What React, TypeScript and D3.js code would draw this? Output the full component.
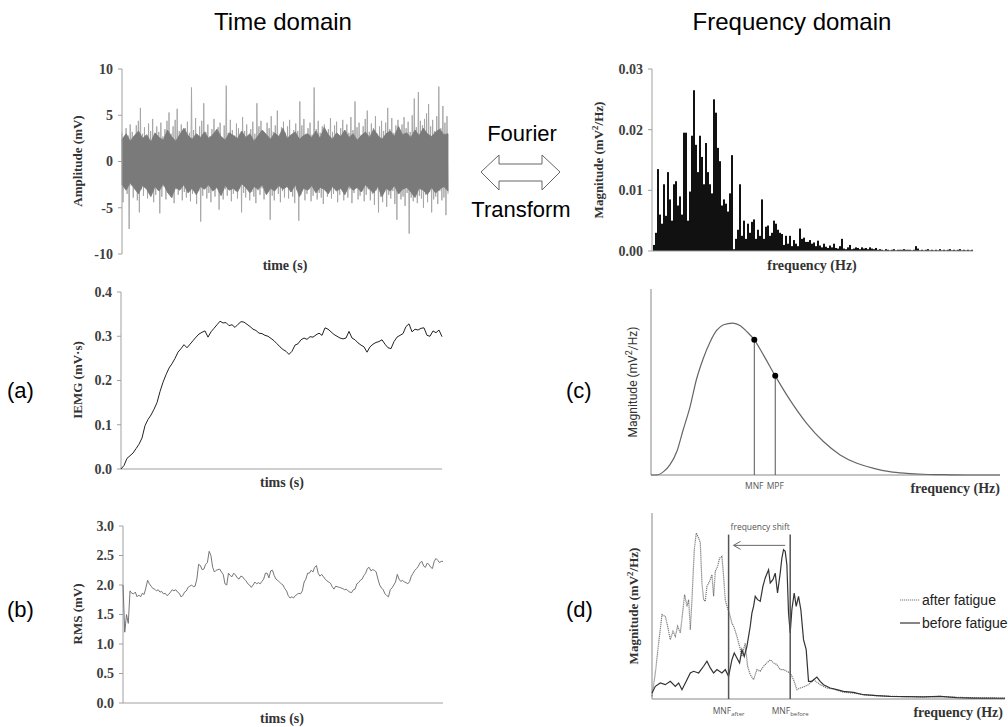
import React from 'react';
import * as d3 from 'd3';

// raw EMG: successive positive / negative excursions (mV)
const emgPeaks = [
  3.1, 2.4, 3.6, 2.8, 4.0, 3.2, 2.6, 3.9, 4.4, 5.8,
  3.0, 3.7, 2.5, 4.1, 3.3, 4.6, 2.9, 3.8, 3.2, 4.2,
  2.7, 3.5, 4.4, 5.3, 3.0, 3.8, 4.5, 5.7, 3.3, 4.0,
  2.8, 3.6, 4.3, 3.1, 8.0, 3.4, 4.7, 2.9, 3.8, 4.4,
  6.3, 3.2, 4.0, 2.7, 3.5, 4.6, 3.0, 3.7, 4.2, 2.6,
  3.9, 8.2, 3.1, 4.5, 3.4, 2.8, 4.1, 3.6, 2.9, 4.8,
  3.3, 4.0, 2.7, 3.5, 4.3, 3.0, 6.3, 3.8, 4.4, 3.1,
  2.9, 4.2, 3.6, 4.9, 3.2, 3.9, 5.5, 2.8, 3.7, 4.3,
  3.1, 3.8, 4.5, 2.7, 3.4, 4.1, 3.3, 6.5, 3.9, 4.6,
  3.0, 3.6, 4.2, 2.9, 8.0, 3.5, 4.4, 3.1, 3.8, 4.0,
  2.8, 3.5, 4.7, 3.2, 3.9, 4.3, 2.7, 3.6, 4.5, 3.3,
  4.0, 3.1, 4.8, 3.4, 6.5, 3.7, 4.2, 2.9, 3.8, 4.6,
  5.5, 3.2, 4.1, 3.6, 4.9, 3.0, 3.8, 4.4, 3.3, 4.2,
  5.8, 3.5, 4.7, 3.1, 3.9, 4.5, 3.4, 4.0, 4.8, 3.6,
  4.3, 3.2, 5.0, 6.8, 3.7, 7.5, 4.4, 3.9, 4.6, 5.2,
  6.2, 3.8, 4.5, 3.3, 4.9, 8.1, 3.6, 6.0, 4.2, 4.9,
];
const emgTroughs = [
  -4.4, -2.8, -3.5, -7.3, -2.6, -3.9, -3.1, -4.2, -5.5, -3.0,
  -3.7, -2.5, -4.0, -3.3, -2.9, -4.4, -3.6, -3.1, -5.6, -3.8,
  -2.7, -4.1, -3.4, -2.9, -3.9, -4.5, -3.0, -3.6, -2.8, -4.2,
  -3.3, -3.9, -2.6, -4.3, -3.5, -3.0, -4.6, -3.2, -6.5, -3.7,
  -2.9, -4.0, -3.4, -4.4, -3.1, -3.8, -2.7, -5.2, -3.6, -4.1,
  -3.0, -3.7, -2.8, -4.3, -3.5, -3.2, -4.0, -2.9, -5.5, -3.4,
  -3.9, -2.7, -4.2, -3.3, -3.8, -4.5, -3.1, -3.6, -2.9, -4.1,
  -3.4, -3.0, -6.3, -3.7, -4.2, -2.8, -3.5, -4.4, -3.2, -3.9,
  -2.7, -4.0, -3.3, -3.8, -4.5, -3.1, -6.4, -3.6, -2.9, -4.2,
  -3.5, -3.0, -4.3, -3.7, -2.8, -4.1, -3.4, -3.9, -4.6, -3.2,
  -3.8, -2.7, -4.0, -3.5, -3.1, -4.4, -3.6, -2.9, -4.2, -3.3,
  -3.9, -3.0, -4.5, -3.4, -2.8, -4.1, -3.7, -3.2, -4.3, -3.6,
  -3.0, -4.2, -3.5, -4.7, -3.1, -5.5, -3.8, -4.4, -3.3, -4.9,
  -3.6, -4.0, -3.2, -4.6, -6.3, -3.5, -4.1, -3.8, -4.8, -3.4,
  -7.8, -3.9, -4.3, -3.1, -4.5, -3.7, -4.0, -5.0, -3.6, -4.4,
  -3.3, -5.5, -4.1, -3.8, -4.6, -3.2, -4.2, -3.9, -5.8, -3.5,
];
// envelope of the dense dark core of the signal (mV)
const coreUpper = [
  2.4, 3.0, 2.2, 2.8, 3.3, 2.5, 2.9, 2.1, 3.1, 2.6,
  2.3, 3.4, 2.7, 2.2, 2.9, 3.6, 2.8, 2.4, 3.0, 2.6,
  3.2, 2.5, 2.9, 3.5, 2.7, 2.3, 3.1, 2.8, 2.5, 3.3,
  2.6, 3.0, 2.2, 2.8, 3.4, 2.9, 2.4, 3.1, 2.7, 3.6,
  2.5, 2.9, 3.2, 2.4, 2.8, 3.0, 2.6, 3.3, 2.5, 3.7,
  2.9, 2.4, 3.1, 2.7, 3.4, 2.6, 3.0, 2.3, 2.8, 3.2,
  2.6, 3.5, 2.8, 2.4, 3.0, 3.3, 2.7, 3.8, 2.9, 3.1,
  2.6, 3.4, 2.8, 3.6, 3.0, 2.7, 3.2, 3.5, 2.9, 3.0,
];
const coreLower = [
  -2.5, -3.1, -2.3, -2.9, -3.5, -2.6, -3.0, -3.8, -2.7, -3.2,
  -2.4, -3.3, -3.9, -2.8, -3.1, -2.5, -3.4, -2.9, -3.6, -2.7,
  -3.0, -2.5, -3.2, -2.8, -3.7, -2.6, -3.1, -2.9, -3.3, -2.4,
  -2.8, -3.4, -2.7, -3.0, -2.5, -3.6, -2.9, -3.2, -2.6, -3.0,
  -2.7, -3.3, -2.5, -3.8, -2.9, -3.1, -2.6, -3.4, -2.8, -3.0,
  -3.5, -2.7, -3.2, -2.9, -3.6, -2.6, -3.1, -2.8, -3.3, -2.5,
  -3.0, -3.4, -2.7, -3.8, -2.9, -3.2, -2.6, -3.5, -3.0, -2.8,
  -3.3, -3.9, -2.9, -3.1, -3.6, -2.8, -3.4, -3.0, -2.7, -3.2,
];

// power spectrum (mV²/Hz), one bar per frequency bin
const spectrum = [
  0.001, 0.003, 0.0135, 0.006, 0.0045, 0.011, 0.0058, 0.013, 0.0085, 0.005,
  0.011, 0.0115, 0.0075, 0.009, 0.006, 0.0195, 0.0195, 0.005, 0.0098, 0.019,
  0.0265, 0.0175, 0.013, 0.019, 0.0155, 0.011, 0.0178, 0.013, 0.011, 0.0095,
  0.025, 0.0228, 0.017, 0.0148, 0.0075, 0.0085, 0.0078, 0.0065, 0.0095, 0.0158,
  0.0003, 0.002, 0.0035, 0.011, 0.0025, 0.005, 0.002, 0.0045, 0.003, 0.0048,
  0.0052, 0.002, 0.0035, 0.0025, 0.0085, 0.002, 0.004, 0.0042, 0.0025, 0.003,
  0.005, 0.0045, 0.0035, 0.003, 0.0028, 0.001, 0.0025, 0.0012, 0.0025, 0.0008,
  0.0018, 0.0012, 0.0008, 0.0037, 0.002, 0.0022, 0.0015, 0.0015, 0.0018, 0.0012,
  0.0014, 0.0008, 0.0017, 0.0009, 0.0006, 0.0012, 0.0007, 0.0005, 0.0009, 0.0006,
  0.0012, 0.0005, 0.0004, 0.0008, 0.002, 0.0004, 0.0003, 0.0006, 0.001, 0.0003,
  0.0004, 0.0006, 0.0005, 0.0003, 0.0006, 0.0004, 0.0005, 0.0003, 0.0006, 0.0004,
  0.0003, 0.0005, 0.0002, 0.0003, 0.0002, 0.0001, 0.0003, 0.0002, 0.0001, 0.0002,
  0.0003, 0.0001, 0.0002, 0.0002, 0.0002, 0.0003, 0.0002, 0.0002, 0.0002, 0.0001,
  0.0002, 0.0008, 0.0004, 0.0001, 0.0002, 0.0001, 0.0002, 0.0003, 0.0001, 0.0002,
  0.0001, 0.0002, 0.0001, 0.0003, 0.0001, 0.0002, 0.0001, 0.0002, 0.0003, 0.0001,
  0.0002, 0.0001, 0.0002, 0.0003, 0.0001, 0.0002, 0.0001, 0.0002, 0.0001, 0.0002,
];

// integrated EMG (mV·s)
const iemg = [
  0.000, 0.008, 0.024, 0.030, 0.036, 0.046, 0.056, 0.070, 0.098, 0.112,
  0.122, 0.135, 0.150, 0.175, 0.196, 0.213, 0.228, 0.238, 0.250, 0.264,
  0.272, 0.281, 0.274, 0.282, 0.290, 0.298, 0.305, 0.309, 0.312, 0.298,
  0.310, 0.318, 0.326, 0.334, 0.330, 0.331, 0.324, 0.326, 0.320, 0.327,
  0.333, 0.332, 0.327, 0.322, 0.316, 0.313, 0.307, 0.306, 0.302, 0.300,
  0.295, 0.290, 0.283, 0.276, 0.270, 0.266, 0.259, 0.266, 0.280, 0.283,
  0.292, 0.296, 0.293, 0.299, 0.298, 0.303, 0.307, 0.302, 0.319, 0.316,
  0.310, 0.304, 0.300, 0.296, 0.294, 0.296, 0.311, 0.296, 0.292, 0.285,
  0.280, 0.276, 0.264, 0.276, 0.282, 0.286, 0.288, 0.292, 0.282, 0.274,
  0.272, 0.288, 0.298, 0.302, 0.306, 0.322, 0.328, 0.310, 0.316, 0.314,
  0.318, 0.319, 0.302, 0.300, 0.312, 0.308, 0.314, 0.299,
];

// RMS (mV)
const rms = [
  2.0, 1.2, 1.5, 1.35, 1.9, 1.86, 1.85, 1.88, 1.8, 1.83,
  1.8, 1.86, 1.84, 1.95, 2.08, 2.02, 1.98, 1.94, 1.93, 1.9,
  1.92, 1.88, 1.89, 1.85, 1.86, 1.82, 1.84, 1.88, 1.92, 1.9,
  1.92, 1.88, 1.86, 1.8, 1.82, 1.88, 1.9, 1.96, 1.98, 2.0,
  1.97, 1.98, 2.1, 2.35, 2.33, 2.26, 2.27, 2.35, 2.38, 2.57,
  2.5, 2.3, 2.22, 2.25, 2.26, 2.27, 2.22, 2.18, 2.02, 2.0,
  2.2, 2.16, 2.14, 2.2, 2.17, 2.12, 2.1, 2.15, 2.14, 2.1,
  2.07, 2.02, 2.0, 1.96, 2.0, 2.05, 2.02, 2.04, 2.02, 2.06,
  2.1, 2.2, 2.2, 2.12, 2.24, 2.25, 2.16, 2.1, 2.08, 2.05,
  2.02, 2.0, 1.94, 1.9, 1.82, 1.78, 1.8, 1.78, 1.82, 1.84,
  1.86, 1.85, 1.9, 2.05, 2.1, 2.2, 2.2, 2.25, 2.22, 2.3,
  2.33, 2.2, 2.15, 2.18, 2.14, 2.1, 2.07, 2.05, 2.03, 1.97,
  1.93, 1.98, 1.97, 1.96, 1.95, 1.94, 1.92, 1.93, 1.9, 1.88,
  1.87, 1.92, 1.93, 2.02, 2.04, 2.08, 2.1, 2.16, 2.2, 2.28,
  2.3, 2.24, 2.26, 2.25, 2.22, 2.1, 2.0, 1.95, 1.92, 1.85,
  1.82, 1.8, 1.92, 1.95, 2.0, 2.05, 2.18, 2.1, 2.06, 2.08,
  2.05, 2.04, 2.02, 2.06, 2.15, 2.2, 2.25, 2.28, 2.32, 2.38,
  2.4, 2.32, 2.3, 2.37, 2.35, 2.3, 2.28, 2.4, 2.45, 2.42,
  2.38, 2.4, 2.4,
];

// (c) schematic power spectral density
const psdFreq = [0, 8, 18, 27, 37, 46, 56, 65, 75, 85, 94, 104, 117, 128, 137, 148, 161, 178, 199, 223, 247, 271, 295, 319, 342, 366, 390, 414, 452, 500];
const psdMag = [0, 0, 0.018, 0.054, 0.126, 0.242, 0.368, 0.512, 0.628, 0.718, 0.777, 0.808, 0.817, 0.803, 0.772, 0.727, 0.646, 0.533, 0.404, 0.278, 0.18, 0.108, 0.063, 0.036, 0.018, 0.009, 0.004, 0.002, 0, 0];
const mnf = 148;
const mpf = 178;

// (d) spectra before / after fatigue
const afterFreq = [0, 5, 10, 15, 20, 23.5, 27.5, 31.5, 35, 38.5, 42.5, 46.5, 49, 52.5, 55, 57.5, 60, 63.5, 66.5, 70, 72.5, 75, 77.5, 80, 82.5, 86.5, 90, 92.5, 95, 98.5, 101.5, 105, 107.5, 110, 112.5, 116, 120, 123.5, 127.5, 131.5, 135, 140, 143.5, 147.5, 152.5, 157.5, 162.5, 167.5, 172.5, 177.5, 182.5, 187.5, 192.5, 197.5, 202.5, 207.5, 212.5, 217.5, 222.5, 227.5, 235, 242.5, 252.5, 262.5, 272.5, 287.5, 302.5, 317.5, 337.5, 357.5, 382.5, 407.5, 432.5, 457.5, 482.5, 530];
const afterMag = [1.4, 14.0, 30.1, 45.3, 44.4, 39.1, 31.9, 36.4, 33.7, 39.1, 35.5, 48.0, 56.1, 49.8, 53.4, 37.3, 53.4, 80.3, 89.2, 86.6, 83.9, 62.4, 53.4, 52.5, 60.6, 63.3, 66.8, 55.2, 68.6, 71.3, 75.8, 76.7, 65.9, 53.4, 49.8, 46.2, 40.9, 38.2, 33.7, 28.3, 22.9, 30.1, 17.6, 13.1, 10.4, 15.8, 14.9, 17.6, 19.4, 21.1, 19.4, 18.5, 15.8, 15.8, 14.9, 14.0, 10.4, 5.0, 5.9, 6.5, 7.7, 10.4, 7.7, 5.9, 5.4, 3.6, 3.2, 2.3, 1.8, 1.4, 1.3, 1.1, 1.4, 0.9, 0.7, 0.5];
const beforeFreq = [0, 5, 12.5, 20, 27.5, 35, 40, 45, 52.5, 57.5, 62.5, 70, 77.5, 82.5, 87.5, 92.5, 97.5, 105, 110, 115, 120, 123.5, 127.5, 131.5, 135, 138.5, 142.5, 145, 147.5, 150, 152.5, 155, 158.5, 162.5, 166.5, 170, 175, 177.5, 181.5, 185, 188.5, 192.5, 195, 197.5, 200, 202.5, 205, 207.5, 210, 213.5, 216.5, 220, 223.5, 227.5, 231.5, 235, 240, 247.5, 252.5, 257.5, 267.5, 277.5, 287.5, 302.5, 317.5, 337.5, 357.5, 382.5, 407.5, 432.5, 457.5, 482.5, 530];
const beforeMag = [3.2, 6.8, 8.6, 7.7, 9.5, 6.8, 8.6, 5.0, 10.4, 14.0, 14.9, 14.0, 17.6, 20.3, 16.7, 14.0, 15.8, 14.0, 15.8, 12.2, 21.1, 24.7, 22.0, 19.4, 26.5, 22.9, 28.3, 33.7, 39.1, 46.2, 49.8, 55.2, 53.4, 52.5, 60.6, 65.1, 69.5, 62.4, 64.2, 67.7, 57.0, 67.7, 75.8, 80.3, 79.4, 72.2, 46.2, 35.5, 48.0, 57.0, 49.8, 55.2, 48.0, 31.9, 26.5, 9.5, 9.5, 11.8, 9.5, 7.7, 5.9, 5.0, 4.1, 3.6, 2.3, 1.8, 1.4, 1.3, 1.1, 1.4, 0.7, 0.5, 0.4];
const mnfAfter = 115;
const mnfBefore = 207.5;
const shiftLevel = 82.6;
const markerTop = 88.4;

const ampTicks = [-10, -5, 0, 5, 10];
const specTicks = [0, 0.01, 0.02, 0.03];
const iemgTicks = [0, 0.1, 0.2, 0.3, 0.4];
const rmsTicks = [0, 0.5, 1, 1.5, 2, 2.5, 3];

const tickFont = { fontFamily: '"Liberation Serif", serif', fontWeight: 700, fontSize: 14, fill: '#404040' };
const titleFont = { fontFamily: '"Liberation Serif", serif', fontWeight: 700, fontSize: 14, fill: '#333' };
const sans = '"Liberation Sans", Arial, sans-serif';
const axisColor = '#a0a0a0';

type Scale = d3.ScaleLinear<number, number>;

function YAxis({ y, x, ticks, fmt }: { y: Scale; x: number; ticks: number[]; fmt: (v: number) => string }) {
  const [b, t] = y.range();
  return (
    <g>
      <line x1={x} x2={x} y1={b} y2={t} stroke={axisColor} />
      {ticks.map((v) => (
        <g key={v}>
          <line x1={x - 4} x2={x} y1={y(v)} y2={y(v)} stroke={axisColor} />
          <text x={x - 9} y={y(v)} dy="0.35em" textAnchor="end" style={tickFont}>{fmt(v)}</text>
        </g>
      ))}
    </g>
  );
}

function YTitle({ x, y, text, style }: { x: number; y: number; text: React.ReactNode; style: any }) {
  return (
    <text transform={`translate(${x},${y}) rotate(-90)`} dy="0.35em" textAnchor="middle" style={style}>{text}</text>
  );
}

const MagLabel = (
  <>
    Magnitude (mV<tspan fontSize="9" dy="-5">2</tspan><tspan dy="5">/Hz)</tspan>
  </>
);

export default function App() {
  // raw EMG
  const emg = emgPeaks.flatMap((p, i) => [p, emgTroughs[i]]);
  const xA = d3.scaleLinear().domain([0, emg.length - 1]).range([122, 448]);
  const yA = d3.scaleLinear().domain([-10, 10]).range([254, 69]);
  const emgPath = d3.line<number>().x((_, i) => xA(i)).y((d) => yA(d))(emg) || '';
  const xCore = d3.scaleLinear().domain([0, coreUpper.length - 1]).range([122, 448]);
  const corePath = d3.area<number>().x((_, i) => xCore(i)).y0((_, i) => yA(coreLower[i])).y1((d) => yA(d))(coreUpper) || '';

  // spectrum
  const xB = d3.scaleBand<number>().domain(d3.range(spectrum.length)).range([653, 973]).padding(0);
  const yB = d3.scaleLinear().domain([0, 0.03]).range([251, 69]);

  // (a) IEMG
  const xC = d3.scaleLinear().domain([0, iemg.length - 1]).range([121, 442]);
  const yC = d3.scaleLinear().domain([0, 0.4]).range([469, 292]);
  const iemgPath = d3.line<number>().x((_, i) => xC(i)).y((d) => yC(d))(iemg) || '';

  // (b) RMS
  const xE = d3.scaleLinear().domain([0, rms.length - 1]).range([123, 443]);
  const yE = d3.scaleLinear().domain([0, 3]).range([703, 526]);
  const rmsPath = d3.line<number>().x((_, i) => xE(i)).y((d) => yE(d))(rms) || '';

  // (c) PSD
  const xD = d3.scaleLinear().domain([0, 500]).range([651, 1000]);
  const yD = d3.scaleLinear().domain([0, 1]).range([475, 289]);
  const psdPath = d3.line<number>().x((_, i) => xD(psdFreq[i])).y((d) => yD(d)).curve(d3.curveMonotoneX)(psdMag) || '';
  const mnfMag = psdMag[psdFreq.indexOf(mnf)];
  const mpfMag = psdMag[psdFreq.indexOf(mpf)];

  // (d) fatigue spectra
  const xF = d3.scaleLinear().domain([0, 530]).range([652, 1005]);
  const yF = d3.scaleLinear().domain([0, 100]).range([699, 513]);
  const afterPath = d3.line<number>().x((_, i) => xF(afterFreq[i])).y((d) => yF(d))(afterMag) || '';
  const beforePath = d3.line<number>().x((_, i) => xF(beforeFreq[i])).y((d) => yF(d))(beforeMag) || '';

  const smallLabel = { fontFamily: '"Open Sans", sans-serif', fontSize: 8.5, fill: '#555' };

  return (
    <svg width={1008} height={727} style={{ position: 'absolute', left: 0, top: 0, background: '#fff' }}>
      {/* headings */}
      <text x={283} y={30} textAnchor="middle" style={{ fontFamily: sans, fontSize: 24, fill: '#000' }}>Time domain</text>
      <text x={792} y={30} textAnchor="middle" style={{ fontFamily: sans, fontSize: 24, fill: '#000' }}>Frequency domain</text>

      {/* Fourier transform arrow */}
      <text x={522} y={141} textAnchor="middle" style={{ fontFamily: sans, fontSize: 22, fill: '#000' }}>Fourier</text>
      <path d="M481,172 L499,155 L499,164 L542,164 L542,155 L560,172 L542,190 L542,181 L499,181 L499,190 Z" fill="#fff" stroke="#666" strokeWidth={1} />
      <text x={521} y={217} textAnchor="middle" style={{ fontFamily: sans, fontSize: 22, fill: '#000' }}>Transform</text>

      {/* panel letters */}
      <text x={7} y={398} style={{ fontFamily: sans, fontSize: 22 }}>(a)</text>
      <text x={7} y={617} style={{ fontFamily: sans, fontSize: 22 }}>(b)</text>
      <text x={566} y={398} style={{ fontFamily: sans, fontSize: 22 }}>(c)</text>
      <text x={566} y={617} style={{ fontFamily: sans, fontSize: 22 }}>(d)</text>

      {/* raw EMG */}
      <path d={emgPath} fill="none" stroke="#a4a4a4" strokeWidth={0.9} />
      <path d={corePath} fill="#7a7a7a" stroke="#7a7a7a" strokeWidth={0.8} />
      <YAxis y={yA} x={122} ticks={ampTicks} fmt={(v) => String(v)} />
      <YTitle x={77} y={161} text="Amplitude (mV)" style={{ ...titleFont, fontSize: 13 }} />
      <text x={285} y={270} textAnchor="middle" style={titleFont}>time (s)</text>

      {/* spectrum */}
      {spectrum.map((v, i) => (
        <rect key={i} x={xB(i)} y={yB(v)} width={xB.bandwidth()} height={yB(0) - yB(v)} fill="#111" />
      ))}
      <YAxis y={yB} x={652} ticks={specTicks} fmt={(v) => v.toFixed(2)} />
      <line x1={652} x2={973} y1={yB(0)} y2={yB(0)} stroke={axisColor} />
      <YTitle x={598} y={160} text={MagLabel} style={{ ...titleFont, fontSize: 13 }} />
      <text x={812} y={270} textAnchor="middle" style={titleFont}>frequency (Hz)</text>

      {/* IEMG */}
      <YAxis y={yC} x={121} ticks={iemgTicks} fmt={(v) => v.toFixed(1)} />
      <line x1={121} x2={442} y1={yC(0)} y2={yC(0)} stroke={axisColor} />
      <path d={iemgPath} fill="none" stroke="#222" strokeWidth={1} />
      <YTitle x={77} y={380} text="IEMG (mV·s)" style={{ ...titleFont, fontSize: 13 }} />
      <text x={282} y={487} textAnchor="middle" style={titleFont}>tims (s)</text>

      {/* RMS */}
      <YAxis y={yE} x={123} ticks={rmsTicks} fmt={(v) => v.toFixed(1)} />
      <line x1={123} x2={443} y1={yE(0)} y2={yE(0)} stroke={axisColor} />
      <path d={rmsPath} fill="none" stroke="#666" strokeWidth={0.9} />
      <YTitle x={77} y={614} text="RMS (mV)" style={{ ...titleFont, fontSize: 13 }} />
      <text x={282} y={723} textAnchor="middle" style={titleFont}>tims (s)</text>

      {/* (c) */}
      <line x1={651} x2={651} y1={475} y2={289} stroke="#888" />
      <line x1={651} x2={1000} y1={475} y2={475} stroke="#888" />
      <path d={psdPath} fill="none" stroke="#666" strokeWidth={1.2} />
      <line x1={xD(mnf)} x2={xD(mnf)} y1={yD(mnfMag)} y2={yD(0)} stroke="#555" />
      <line x1={xD(mpf)} x2={xD(mpf)} y1={yD(mpfMag)} y2={yD(0)} stroke="#555" />
      <circle cx={xD(mnf)} cy={yD(mnfMag)} r={3} fill="#000" />
      <circle cx={xD(mpf)} cy={yD(mpfMag)} r={3} fill="#000" />
      <text x={xD(mnf)} y={489} textAnchor="middle" style={smallLabel}>MNF</text>
      <text x={xD(mpf)} y={489} textAnchor="middle" style={smallLabel}>MPF</text>
      <YTitle x={633} y={382} text={MagLabel} style={{ fontFamily: 'Roboto, sans-serif', fontSize: 12, fill: '#333' }} />
      <text x={1000} y={493} textAnchor="end" style={titleFont}>frequency (Hz)</text>

      {/* (d) */}
      <line x1={652} x2={652} y1={699} y2={513} stroke="#888" />
      <line x1={652} x2={1005} y1={699} y2={699} stroke="#888" />
      <path d={afterPath} fill="none" stroke="#777" strokeWidth={1.2} strokeDasharray="1.2 0.8" />
      <path d={beforePath} fill="none" stroke="#333" strokeWidth={1.2} />
      <line x1={xF(mnfAfter)} x2={xF(mnfAfter)} y1={yF(markerTop)} y2={yF(0)} stroke="#555" strokeWidth={1.5} />
      <line x1={xF(mnfBefore)} x2={xF(mnfBefore)} y1={yF(markerTop)} y2={yF(0)} stroke="#555" strokeWidth={1.5} />
      <line x1={xF(200)} x2={xF(122.5)} y1={yF(shiftLevel)} y2={yF(shiftLevel)} stroke="#666" />
      <path d={`M${xF(122.5) + 7},${yF(shiftLevel) - 4} L${xF(122.5)},${yF(shiftLevel)} L${xF(122.5) + 7},${yF(shiftLevel) + 4}`} fill="none" stroke="#666" />
      <text x={xF(162.5)} y={530} textAnchor="middle" style={smallLabel}>frequency shift</text>
      <text x={xF(mnfAfter)} y={714} textAnchor="middle" style={smallLabel}>MNF<tspan fontSize="6" dy="2">after</tspan></text>
      <text x={xF(mnfBefore)} y={714} textAnchor="middle" style={smallLabel}>MNF<tspan fontSize="6" dy="2">before</tspan></text>
      <line x1={900} x2={920} y1={600} y2={600} stroke="#777" strokeWidth={1.2} strokeDasharray="1.2 0.8" />
      <line x1={900} x2={920} y1={623} y2={623} stroke="#333" strokeWidth={1.2} />
      <text x={922} y={605} style={{ fontFamily: sans, fontSize: 14, fill: '#222' }}>after fatigue</text>
      <text x={922} y={628} style={{ fontFamily: sans, fontSize: 14, fill: '#222' }}>before fatigue</text>
      <YTitle x={633} y={606} text={MagLabel} style={{ ...titleFont, fontSize: 13 }} />
      <text x={1003} y={717} textAnchor="end" style={titleFont}>frequency (Hz)</text>
    </svg>
  );
}
